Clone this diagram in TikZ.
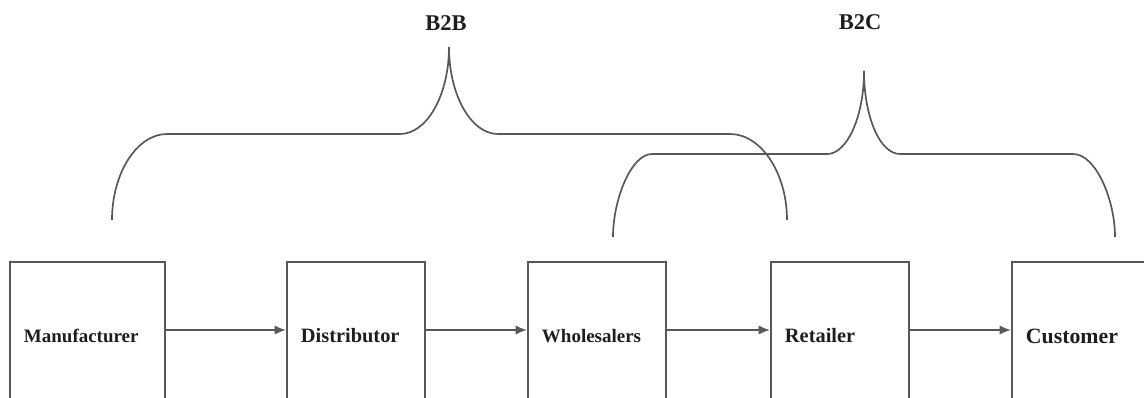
\documentclass[tikz,border=0pt]{standalone}
\usepackage{fontspec}
\setmainfont{Liberation Serif}
\usetikzlibrary{arrows.meta,positioning}
\definecolor{cline}{HTML}{585858}
\definecolor{ctext}{HTML}{1E1E1E}

\begin{document}
\begin{tikzpicture}[x=0.025cm,y=-0.025cm,
  every node/.style={text=ctext},
  stage/.style={draw=cline,line width=1.5pt,minimum height=3.7cm,text width=2.75cm,
    inner xsep=0.35cm,align=left,font=\bfseries\fontsize{14.5}{16}\selectfont},
  flow/.style={-{Latex[length=8pt,width=6.5pt]},cline,line width=1.1pt},
  brace/.style={cline,line width=1.2pt}]
  \useasboundingbox (0,0) rectangle (1144,397);
  \clip (0,0) rectangle (1144,397);

  % supply chain
  \node[stage,text width=3.175cm,font=\bfseries\fontsize{13.5}{15}\selectfont] (man) at (87.5,336) {Manufacturer};
  \node[stage] (dis) at (356,336) {Distributor};
  \node[stage,font=\bfseries\fontsize{13.5}{15}\selectfont] (who) at (597,336) {Wholesalers};
  \node[stage] (ret) at (840,336) {Retailer};
  \node[stage,font=\bfseries\fontsize{15.5}{17}\selectfont] (cus) at (1081,336) {Customer};

  \draw[flow] ([yshift=0.15cm]man.east) -- ([yshift=0.15cm]dis.west);
  \draw[flow] ([yshift=0.15cm]dis.east) -- ([yshift=0.15cm]who.west);
  \draw[flow] ([yshift=0.15cm]who.east) -- ([yshift=0.15cm]ret.west);
  \draw[flow] ([yshift=0.15cm]ret.east) -- ([yshift=0.15cm]cus.west);

  % B2B brace
  \draw[brace] (112,220) .. controls (112,173) and (137,134) .. (167,134) -- (400,134)
    .. controls (427,134) and (449,95) .. (449,47)
    .. controls (449,95) and (471,134) .. (498,134) -- (730,134)
    .. controls (761,134) and (787,173) .. (787,220);
  \node[font=\bfseries\fontsize{16}{18}\selectfont] (btob) at (446,23) {B2B};

  % B2C brace
  \draw[brace] (613,237) .. controls (613,200) and (631,154) .. (652,154) -- (827,154)
    .. controls (847,154) and (864,117) .. (864,71)
    .. controls (864,117) and (880,154) .. (900,154) -- (1073,154)
    .. controls (1096,154) and (1115,200) .. (1115,237);
  \node[font=\bfseries\fontsize{16}{18}\selectfont] (btoc) at (860,22) {B2C};
\end{tikzpicture}
\end{document}
